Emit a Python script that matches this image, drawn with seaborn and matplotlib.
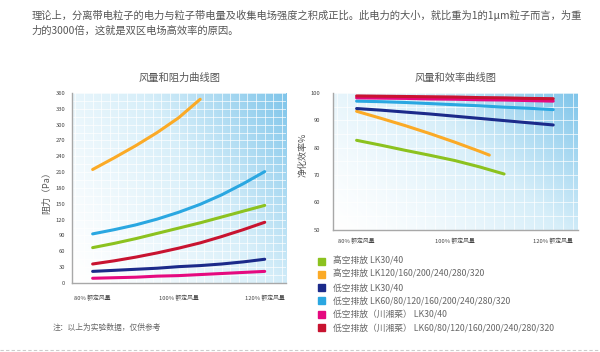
import numpy as np
import pandas as pd
import seaborn as sns
import matplotlib.pyplot as plt
from matplotlib.colors import LinearSegmentedColormap
from matplotlib.patches import Rectangle
from matplotlib.ticker import MultipleLocator, FixedLocator

sns.set_theme(style="white")
plt.rcParams['font.family'] = ['Noto Sans CJK SC', 'DejaVu Sans']

# 数据
flow = [80, 85, 90, 95, 100, 105, 110, 115, 120]
series_names = ["高空排放 LK30/40",
                "高空排放 LK120/160/200/240/280/320",
                "低空排放 LK30/40",
                "低空排放 LK60/80/120/160/200/240/280/320",
                "低空排放（川湘菜） LK30/40",
                "低空排放（川湘菜） LK60/80/120/160/200/240/280/320"]
series_colors = ["#8cc21f", "#fbaa26", "#1b2a8a", "#2aa7e1", "#e5097f", "#c81330"]

# 阻力 (Pa)
res_green = [67, 75, 84, 94, 104, 114, 125, 136, 147]
res_orange = [215, 237, 260, 285, 313, 348]
res_navy = [22, 24, 26, 28, 31, 33, 36, 40, 45]
res_blue = [93, 101, 110, 121, 134, 149, 167, 188, 211]
res_pink = [9, 10, 11, 13, 14, 16, 18, 20, 22]
res_red = [36, 42, 49, 57, 66, 76, 88, 101, 115]

# 净化效率 %
eff_green = [82.7, 80.9, 79.0, 77.2, 75.3, 73.0, 70.4]
eff_orange_x = [80, 85, 90, 95, 100, 105, 107]
eff_orange = [93.3, 90.7, 88.0, 85.1, 82.0, 78.7, 77.3]
eff_navy = [94.3, 93.7, 93.0, 92.3, 91.5, 90.7, 89.9, 89.1, 88.3]
eff_blue = [97.0, 96.8, 96.5, 96.1, 95.7, 95.3, 94.8, 94.4, 93.9]
eff_pink = [98.2, 98.1, 98.0, 97.8, 97.7, 97.5, 97.4, 97.2, 97.0]
eff_red = [98.9, 98.8, 98.7, 98.6, 98.5, 98.3, 98.2, 98.0, 97.9]

xtick_vals = [80, 100, 120]
xtick_labels = ["80% 额定风量", "100% 额定风量", "120% 额定风量"]

intro = ("理论上，分离带电粒子的电力与粒子带电量及收集电场强度之积成正比。此电力的大小，就比重为1的1μm粒子而言，为重\n"
         "力的3000倍，这就是双区电场高效率的原因。")

res_df = pd.concat([
    pd.DataFrame({"x": flow, "y": res_green, "s": series_names[0]}),
    pd.DataFrame({"x": flow[:len(res_orange)], "y": res_orange, "s": series_names[1]}),
    pd.DataFrame({"x": flow, "y": res_navy, "s": series_names[2]}),
    pd.DataFrame({"x": flow, "y": res_blue, "s": series_names[3]}),
    pd.DataFrame({"x": flow, "y": res_pink, "s": series_names[4]}),
    pd.DataFrame({"x": flow, "y": res_red, "s": series_names[5]}),
])
eff_df = pd.concat([
    pd.DataFrame({"x": flow[:len(eff_green)], "y": eff_green, "s": series_names[0]}),
    pd.DataFrame({"x": eff_orange_x, "y": eff_orange, "s": series_names[1]}),
    pd.DataFrame({"x": flow, "y": eff_navy, "s": series_names[2]}),
    pd.DataFrame({"x": flow, "y": eff_blue, "s": series_names[3]}),
    pd.DataFrame({"x": flow, "y": eff_pink, "s": series_names[4]}),
    pd.DataFrame({"x": flow, "y": eff_red, "s": series_names[5]}),
])
palette = dict(zip(series_names, series_colors))

fig = plt.figure(figsize=(6, 3.52), dpi=100)
ax1 = fig.add_axes([0.12, 0.196, 0.357, 0.54])
ax2 = fig.add_axes([0.555, 0.347, 0.408, 0.389])

# 背景渐变
cmap = LinearSegmentedColormap.from_list("bg", ["#ffffff", "#d6eef9", "#7fc5ea"])
gx, gy = np.meshgrid(np.linspace(0, 1, 200), np.linspace(0, 1, 200))
grad = np.clip(0.62 * gx + 0.38 * gy, 0, 1) ** 1.3


def style_axes(ax, ylim, ymajor, yminor, xminor):
    ax.set_xlim(75.2, 125)
    ax.set_ylim(*ylim)
    ax.imshow(grad, extent=[75.2, 125, ylim[0], ylim[1]], origin="lower",
              aspect="auto", cmap=cmap, zorder=0, vmin=0, vmax=1)
    ax.xaxis.set_major_locator(FixedLocator(xtick_vals))
    ax.set_xticklabels(xtick_labels)
    ax.xaxis.set_minor_locator(MultipleLocator(xminor))
    ax.yaxis.set_major_locator(MultipleLocator(ymajor))
    ax.yaxis.set_minor_locator(MultipleLocator(yminor))
    ax.set_axisbelow(True)
    ax.grid(which="both", color="white", lw=0.6, alpha=0.8)
    ax.tick_params(which="both", length=0, labelsize=4.2, colors="#444")
    for side in ["top", "right"]:
        ax.spines[side].set_visible(False)
    for side in ["left", "bottom"]:
        ax.spines[side].set_color("#a8a8a8")
        ax.spines[side].set_linewidth(1.0)
    ax.set_xlabel("")
    ax.set_ylabel("")
    for line in ax.get_lines():
        line.set_solid_capstyle("round")


sns.lineplot(data=res_df, x="x", y="y", hue="s", palette=palette, ax=ax1,
             lw=2.2, legend=False, zorder=3)
style_axes(ax1, (0, 360), 30, 15, 2)
ax1.tick_params(axis="x", pad=9)
ax1.tick_params(axis="y", pad=5)
ax1.set_title("风量和阻力曲线图", fontsize=7.4, color="#555", pad=9)
fig.text(0.078, 0.46, "阻力（Pa）", rotation=90, ha="center", va="center",
         fontsize=6.5, color="#555")

sns.lineplot(data=eff_df, x="x", y="y", hue="s", palette=palette, ax=ax2,
             lw=2.2, legend=False, zorder=3)
style_axes(ax2, (50, 100), 10, 5, 2)
ax2.tick_params(axis="x", pad=6)
ax2.tick_params(axis="y", pad=9)
ax2.set_title("风量和效率曲线图", fontsize=7.4, color="#555", pad=9)
fig.text(0.505, 0.56, "净化效率%", rotation=90, ha="center", va="center",
         fontsize=6.5, color="#555")

# 正文
fig.text(0.053, 0.935, intro, fontsize=7.4, color="#555", va="center",
         linespacing=1.55)

# 图例
for i, (name, color) in enumerate(zip(series_names, series_colors)):
    yc = 1 - (261 + i * 13.3) / 352
    fig.patches.append(Rectangle((318 / 600, yc - 3.5 / 352), 7 / 600, 7 / 352,
                                 transform=fig.transFigure, color=color))
    fig.text(333 / 600, yc, name, fontsize=6.3, color="#666", va="center")

fig.text(53 / 600, 1 - 328 / 352, "注：以上为实验数据，仅供参考", fontsize=5.6,
         color="#666", va="center")
fig.add_artist(plt.Line2D([0, 1], [1 - 350 / 352] * 2, transform=fig.transFigure,
                          color="#cccccc", lw=0.8, ls=(0, (3, 2))))

fig.savefig("out.png", dpi=100)
